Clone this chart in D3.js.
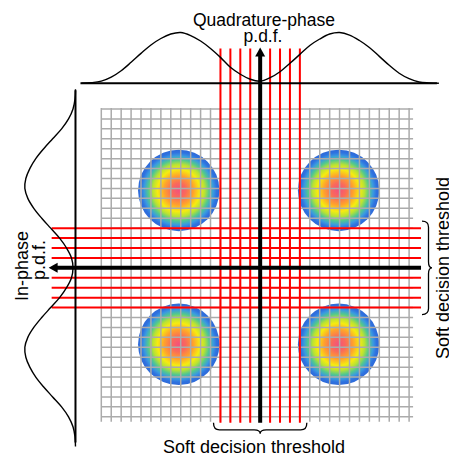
<!DOCTYPE html>
<html>
<head>
<meta charset="utf-8">
<script src="https://cdn.jsdelivr.net/npm/d3@7/dist/d3.min.js"></script>
<style>
html,body{margin:0;padding:0;background:#fff;}
svg{display:block;}
text{font-family:"Liberation Sans",Arial,Helvetica,sans-serif;fill:#000;}
</style>
</head>
<body>
<svg id="chart" width="449" height="455"></svg>
<script>
// ---- data (grid units; origin at the axes crossing) ----
const gridCols = d3.range(-16, 16);          // vertical grid line positions
const gridRows = d3.range(-15, 17);          // horizontal grid line positions
const constellationI = [-8.2, 7.9, -8.2, 7.9];
const constellationQ = [7.8, 7.8, -7.7, -7.7];
const discRadius = 4.1;
const softI = [-4, -3, -2, -1, 1, 2, 3, 4]; // red vertical threshold lines
const softQ = [-4, -3, -2, -1, 1, 2, 3, 4]; // red horizontal threshold lines
// quadrature-phase p.d.f. (top), sampled along I axis
const qPdfPos = [-18,-17,-16,-15,-14,-13,-12,-11,-10,-9,-8,-7,-6,-5,-4,-3,-2,-1,0,1,2,3,4,5,6,7,8,9,10,11,12,13,14,15,16,17,18];
const qPdfVal = [0,0.05,0.2,0.6,1.25,2.1,3.0,3.85,4.5,4.95,5.1,4.8,4.25,3.5,2.6,1.6,0.9,0.4,0.2,0.55,1.15,2.0,2.9,3.8,4.45,4.95,5.1,4.85,4.3,3.6,2.7,1.8,1.0,0.45,0.12,0.03,0];
// in-phase p.d.f. (left), sampled along Q axis
const iPdfPos = [18,17,16,15,14,13,12,11,10,9,8,7,6,5,4,3,2,1,0,-1,-2,-3,-4,-5,-6,-7,-8,-9,-10,-11,-12,-13,-14,-15,-16,-17,-18];
const iPdfVal = [0,0.05,0.25,0.7,1.4,2.3,3.2,4.0,4.6,5.0,5.1,4.8,4.2,3.4,2.5,1.6,0.9,0.4,0.25,0.4,0.9,1.6,2.5,3.4,4.2,4.8,5.1,5.0,4.6,4.0,3.2,2.3,1.4,0.7,0.25,0.05,0];
const labels = {
  top1: "Quadrature-phase", top2: "p.d.f.",
  left1: "In-phase", left2: "p.d.f.",
  bottom: "Soft decision threshold", right: "Soft decision threshold"
};

// ---- scales ----
const x = d3.scaleLinear().domain([-16, 15]).range([101.3, 409.1]);
const y = d3.scaleLinear().domain([16, -15]).range([109, 416.8]);
const unit = x(1) - x(0);

const svg = d3.select("#chart");
const defs = svg.append("defs");
const rg = defs.append("radialGradient").attr("id", "disc");
[[0, "#f4507c"], [0.18, "#fa6a5a"], [0.36, "#ffa22c"], [0.52, "#f6ec10"],
 [0.64, "#b8e234"], [0.75, "#52c88e"], [0.85, "#3a9ae0"], [0.93, "#2f72e0"], [1, "#2e6ad8"]]
  .forEach(([o, c]) => rg.append("stop").attr("offset", o).attr("stop-color", c));

// discs
svg.append("g").selectAll("circle")
  .data(constellationI.map((v, i) => [v, constellationQ[i]]))
  .join("circle")
  .attr("cx", d => x(d[0])).attr("cy", d => y(d[1]))
  .attr("r", discRadius * unit)
  .attr("fill", "url(#disc)");

// grid
const grid = svg.append("g").attr("stroke", "#ababab").attr("stroke-width", 1.5);
grid.selectAll(".v").data(gridCols).join("line")
  .attr("x1", d => x(d)).attr("x2", d => x(d))
  .attr("y1", y(16.1)).attr("y2", y(-15.5));
grid.selectAll(".h").data(gridRows).join("line")
  .attr("y1", d => y(d)).attr("y2", d => y(d))
  .attr("x1", x(-16)).attr("x2", x(15.4));

// red soft decision lines
const red = svg.append("g").attr("stroke", "#ff0000").attr("stroke-width", 2);
red.selectAll(".rv").data(softI).join("line")
  .attr("x1", d => x(d)).attr("x2", d => x(d))
  .attr("y1", y(22.1)).attr("y2", y(-15.6));
red.selectAll(".rh").data(softQ).join("line")
  .attr("y1", d => y(d)).attr("y2", d => y(d))
  .attr("x1", x(-21.0)).attr("x2", x(16.2));

// black axes with arrowheads
const ax = svg.append("g");
ax.append("line").attr("x1", x(0)).attr("x2", x(0)).attr("y1", y(-15.6)).attr("y2", y(21.5))
  .attr("stroke", "#000").attr("stroke-width", 4);
ax.append("path").attr("d", `M${x(0)},${y(22.2)} L${x(0)+5},${y(21.3)} L${x(0)-5},${y(21.3)} Z`).attr("fill", "#000");
ax.append("line").attr("y1", y(0)).attr("y2", y(0)).attr("x1", x(16.2)).attr("x2", x(-20.6))
  .attr("stroke", "#000").attr("stroke-width", 4);
ax.append("path").attr("d", `M${x(-21.3)},${y(0)} L${x(-20.4)},${y(0)-5} L${x(-20.4)},${y(0)+5} Z`).attr("fill", "#000");

// top p.d.f.
const qBase = 18.6;
svg.append("line").attr("x1", x(-18.1)).attr("x2", x(17.8)).attr("y1", y(qBase)).attr("y2", y(qBase))
  .attr("stroke", "#000").attr("stroke-width", 2);
svg.append("path")
  .datum(qPdfPos.map((p, i) => [p, qPdfVal[i]]))
  .attr("d", d3.line().x(d => x(d[0])).y(d => y(qBase + d[1])).curve(d3.curveCatmullRom))
  .attr("fill", "none").attr("stroke", "#000").attr("stroke-width", 1.4);

// left p.d.f.
const iBase = -18.6;
svg.append("line").attr("x1", x(iBase)).attr("x2", x(iBase)).attr("y1", y(17.9)).attr("y2", y(-17.6))
  .attr("stroke", "#000").attr("stroke-width", 2);
svg.append("path")
  .datum(iPdfPos.map((p, i) => [p, iPdfVal[i]]))
  .attr("d", d3.line().x(d => x(iBase - d[1])).y(d => y(d[0])).curve(d3.curveCatmullRom))
  .attr("fill", "none").attr("stroke", "#000").attr("stroke-width", 1.4);

// braces
function hBrace(x1, x2, y0, h) {
  const m = (x1 + x2) / 2, y1 = y0 + h * 0.65, y2 = y0 + h, r = 6;
  return `M${x1},${y0} Q${x1},${y1} ${x1 + r},${y1} L${m - r},${y1} Q${m},${y1} ${m},${y2} Q${m},${y1} ${m + r},${y1} L${x2 - r},${y1} Q${x2},${y1} ${x2},${y0}`;
}
function vBrace(y1, y2, x0, w) {
  const m = (y1 + y2) / 2, x1 = x0 + w * 0.65, x2 = x0 + w, r = 6;
  return `M${x0},${y1} Q${x1},${y1} ${x1},${y1 + r} L${x1},${m - r} Q${x1},${m} ${x2},${m} Q${x1},${m} ${x1},${m + r} L${x1},${y2 - r} Q${x1},${y2} ${x0},${y2}`;
}
svg.append("path").attr("d", hBrace(x(-4.7), x(4.7), y(-15.6), 11))
  .attr("fill", "none").attr("stroke", "#000").attr("stroke-width", 1.3);
svg.append("path").attr("d", vBrace(y(4.7), y(-4.7), x(16.3), 10))
  .attr("fill", "none").attr("stroke", "#000").attr("stroke-width", 1.3);

// labels
svg.append("text").attr("x", 264).attr("y", 26).attr("text-anchor", "middle").attr("font-size", 17.5).text(labels.top1);
svg.append("text").attr("x", 263).attr("y", 42).attr("text-anchor", "middle").attr("font-size", 17.5).text(labels.top2);
svg.append("text").attr("transform", "translate(28,266) rotate(-90)").attr("text-anchor", "middle").attr("font-size", 18).text(labels.left1);
svg.append("text").attr("transform", "translate(45,260) rotate(-90)").attr("text-anchor", "middle").attr("font-size", 18).text(labels.left2);
svg.append("text").attr("x", 254).attr("y", 452.5).attr("text-anchor", "middle").attr("font-size", 18).text(labels.bottom);
svg.append("text").attr("transform", "translate(448.5,268) rotate(-90)").attr("text-anchor", "middle").attr("font-size", 18).text(labels.right);
</script>
</body>
</html>
